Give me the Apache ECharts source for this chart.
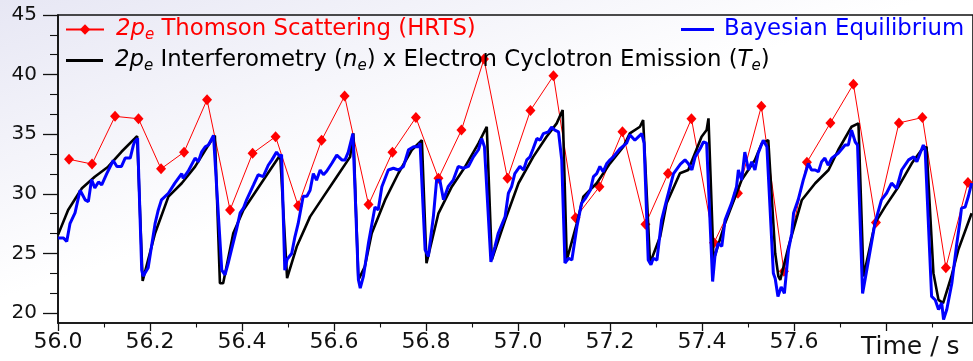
<!DOCTYPE html>
<html>
<head>
<meta charset="utf-8">
<script src="https://cdn.jsdelivr.net/npm/echarts@6/dist/echarts.min.js"></script>
<style>
  html, body { margin: 0; padding: 0; background: #fff; }
  #chart { width: 973px; height: 361px; }
</style>
</head>
<body>
<div id="chart"></div>
<script>
// HRTS points (diamonds)
const hrtsTime = [56.024, 56.074, 56.124, 56.175, 56.224, 56.274, 56.324, 56.374, 56.423, 56.473,
  56.522, 56.573, 56.623, 56.675, 56.727, 56.778, 56.827, 56.877, 56.926, 56.977,
  57.027, 57.077, 57.125, 57.177, 57.227, 57.277, 57.326, 57.377, 57.426, 57.478,
  57.529, 57.578, 57.628, 57.679, 57.729, 57.778, 57.828, 57.879, 57.930, 57.978]
const hrtsValue = [32.9, 32.5, 36.5, 36.3, 32.1, 33.5, 37.9, 28.65, 33.4, 34.8,
  29.0, 34.5, 38.2, 29.1, 33.5, 36.4, 31.3, 35.35, 41.3, 31.3,
  37.0, 39.9, 28.0, 30.6, 35.2, 27.45, 31.7, 36.3, 25.9, 30.05,
  37.35, 23.5, 32.65, 35.95, 39.2, 27.6, 35.95, 36.4, 23.8, 30.95]

// interferometry x ECE (black), one line per sawtooth
const eceTime = [
  56.000, 56.022, 56.052, 56.080, 56.109, 56.138, 56.167, 56.172,
  56.184, 56.211, 56.240, 56.269, 56.298, 56.327, 56.341,
  56.352, 56.359, 56.381, 56.403, 56.432, 56.461, 56.483,
  56.498, 56.519, 56.548, 56.577, 56.606, 56.635, 56.642,
  56.653, 56.667, 56.682, 56.711, 56.740, 56.769, 56.791,
  56.801, 56.827, 56.856, 56.885, 56.914, 56.932,
  56.943, 56.972, 57.001, 57.033, 57.062, 57.084, 57.097,
  57.106, 57.128, 57.142, 57.171, 57.200, 57.229, 57.243, 57.265, 57.272,
  57.287, 57.309, 57.323, 57.352, 57.370, 57.399, 57.410, 57.414,
  57.425, 57.450, 57.486, 57.515, 57.530, 57.544,
  57.559, 57.566, 57.570, 57.588, 57.617, 57.646, 57.675, 57.696, 57.725, 57.740,
  57.751, 57.776, 57.798, 57.827, 57.856, 57.877, 57.888,
  57.903, 57.914, 57.924, 57.942, 57.957, 57.986]
const eceValue = [
  26.56, 28.65, 30.47, 31.44, 32.28, 33.53, 34.65, 34.85,
  22.7, 26.7, 29.77, 30.89, 32.28, 34.1, 34.9,
  22.5, 22.5, 26.7, 28.65, 30.33, 32.0, 33.26,
  22.93, 25.58, 28.09, 29.77, 31.44, 33.1, 35.07,
  22.79, 23.9, 26.7, 29.49, 31.73, 33.68, 34.5,
  24.19, 28.37, 30.6, 32.28, 34.24, 35.63,
  24.46, 27.8, 30.89, 33.1, 34.79, 35.91, 37.03,
  24.46, 27.54, 29.77, 30.89, 32.56, 33.95, 35.07, 35.63, 36.19,
  24.19, 26.42, 29.21, 31.73, 32.0, 34.79, 35.35, 36.33,
  24.46, 27.54, 31.16, 32.84, 34.24, 34.5,
  25.02, 23.07, 22.79, 25.58, 29.49, 30.89, 32.0, 33.68, 35.63, 35.91,
  23.07, 27.54, 28.93, 30.6, 32.56, 33.68, 33.95,
  23.35, 21.11, 20.84, 23.07, 25.3, 28.37]

// Bayesian equilibrium (blue)
const bayesTime = [
  56.000, 56.012, 56.019, 56.026, 56.037, 56.048, 56.059, 56.066, 56.073, 56.080, 56.088, 56.095, 56.106, 56.120, 56.128, 56.138, 56.146, 56.157, 56.164, 56.167, 56.173,
  56.182, 56.185, 56.196, 56.200, 56.211, 56.218, 56.225, 56.240, 56.254, 56.269, 56.272, 56.283, 56.298, 56.305, 56.312, 56.320, 56.327, 56.338, 56.341,
  56.356, 56.363, 56.370, 56.377, 56.388, 56.396, 56.403, 56.410, 56.425, 56.435, 56.446, 56.457, 56.465, 56.475, 56.483, 56.486,
  56.493, 56.498, 56.508, 56.515, 56.522, 56.533, 56.541, 56.548, 56.555, 56.562, 56.570, 56.577, 56.584, 56.595, 56.606, 56.617, 56.624, 56.631, 56.641,
  56.653, 56.657, 56.664, 56.675, 56.689, 56.696, 56.704, 56.718, 56.729, 56.740, 56.751, 56.762, 56.773, 56.783, 56.787,
  56.798, 56.805, 56.816, 56.823, 56.830, 56.838, 56.848, 56.859, 56.870, 56.881, 56.892, 56.903, 56.914, 56.921, 56.927,
  56.941, 56.950, 56.957, 56.972, 56.979, 56.986, 56.993, 57.004, 57.012, 57.019, 57.026, 57.033, 57.041, 57.048, 57.055, 57.066, 57.073, 57.080, 57.088, 57.095,
  57.102, 57.110, 57.117, 57.128, 57.138, 57.146, 57.157, 57.164, 57.171, 57.178, 57.185, 57.193, 57.200, 57.207, 57.222, 57.236, 57.243, 57.254, 57.262, 57.269, 57.274,
  57.283, 57.289, 57.294, 57.302, 57.312, 57.323, 57.338, 57.353, 57.363, 57.370, 57.378, 57.385, 57.396, 57.403, 57.410,
  57.423, 57.428, 57.435, 57.443, 57.450, 57.464, 57.475, 57.479, 57.486, 57.493, 57.501, 57.508, 57.515, 57.522, 57.533, 57.541,
  57.555, 57.559, 57.565, 57.572, 57.579, 57.588, 57.595, 57.599, 57.609, 57.620, 57.631, 57.638, 57.646, 57.653, 57.660, 57.667, 57.674, 57.682, 57.696, 57.711, 57.718, 57.725, 57.733, 57.738,
  57.749, 57.758, 57.776, 57.790, 57.801, 57.812, 57.823, 57.834, 57.849, 57.860, 57.867, 57.881, 57.885,
  57.899, 57.907, 57.914, 57.921, 57.925, 57.932, 57.943, 57.953, 57.961, 57.964, 57.972, 57.979, 57.986]
const bayesValue = [
  26.3, 26.3, 26.0, 27.5, 28.4, 30.3, 29.5, 29.35, 31.2, 30.5, 31.0, 30.75, 31.7, 32.8, 32.3, 32.3, 33.0, 33.0, 34.1, 34.4, 34.65,
  23.6, 23.1, 23.8, 23.8, 27.5, 28.65, 29.5, 30.05, 30.9, 31.7, 31.3, 31.9, 33.0, 32.7, 33.5, 33.95, 34.1, 34.9, 34.8,
  23.6, 23.2, 24.2, 25.3, 27.0, 28.4, 28.8, 29.5, 30.75, 31.6, 31.45, 32.4, 32.85, 33.5, 33.1, 33.3,
  23.6, 24.5, 25.0, 26.4, 27.5, 29.8, 29.8, 30.3, 31.7, 31.15, 32.0, 31.6, 31.9, 32.55, 33.25, 32.85, 32.85, 33.5, 35.05,
  22.8, 22.1, 23.1, 25.9, 28.9, 28.65, 30.6, 32.0, 32.15, 32.0, 32.3, 33.7, 33.95, 33.95, 34.25,
  25.3, 24.75, 28.1, 31.15, 31.15, 29.5, 30.6, 31.15, 32.3, 32.15, 32.3, 33.1, 33.7, 34.65, 33.95,
  24.3, 25.6, 26.7, 28.1, 30.05, 30.6, 31.7, 32.3, 32.0, 32.85, 33.1, 33.8, 34.65, 34.5, 35.05, 35.2, 35.6, 35.35, 35.2, 32.85,
  24.2, 24.6, 24.45, 27.25, 29.2, 29.6, 30.3, 31.45, 31.7, 32.3, 31.85, 32.55, 32.85, 33.1, 33.8, 34.25, 34.95, 34.5, 34.8, 35.05, 34.25,
  24.45, 24.05, 24.6, 24.45, 27.8, 29.5, 31.7, 32.5, 32.85, 32.55, 32.0, 33.1, 33.8, 34.35, 34.25,
  22.65, 24.75, 25.85, 25.6, 27.8, 29.2, 30.6, 32.0, 31.15, 33.5, 32.0, 32.7, 32.0, 33.4, 34.5, 33.95,
  23.35, 22.9, 21.4, 22.2, 21.65, 25.3, 26.7, 28.4, 29.5, 31.15, 32.55, 32.0, 32.0, 31.85, 32.7, 33.0, 32.4, 33.0, 33.4, 34.1, 34.1, 35.35, 34.35, 34.1,
  21.65, 23.6, 27.55, 29.5, 30.05, 30.9, 30.45, 32.0, 32.85, 33.1, 32.7, 34.1, 33.7,
  21.4, 21.1, 20.3, 20.85, 19.45, 20.3, 22.5, 25.6, 27.8, 28.8, 28.9, 29.8, 30.9]

const xMajorTicks = [56.0, 56.2, 56.4, 56.6, 56.8, 57.0, 57.2, 57.4, 57.6, 57.8]
const xLabels = [56.0, 56.2, 56.4, 56.6, 56.8, 57.0, 57.2, 57.4, 57.6]
const xMinorTicks = [56.1, 56.3, 56.5, 56.7, 56.9, 57.1, 57.3, 57.5, 57.7, 57.9]
const yMajorTicks = [20, 25, 30, 35, 40, 45]
const yMinorTicks = [21.667, 23.333, 26.667, 28.333, 31.667, 33.333, 36.667, 38.333, 41.667, 43.333]

const zip = (t, v) => t.map((x, i) => [x, v[i]])

const FONT = '"DejaVu Sans", sans-serif'
const X_MIN = 56, X_MAX = 57.989, Y_MIN = 19.17, Y_MAX = 45
const INK = '#111'

const chart = echarts.init(document.getElementById('chart'), null, { renderer: 'canvas' })

const legendText = (color, size) => ({
  fontFamily: FONT,
  fontSize: size,
  color: color,
  rich: {
    a: { fontFamily: FONT, fontSize: size, fontStyle: 'italic', color: color, lineHeight: 26, padding: [0, 0, 0, 7] },
    i: { fontFamily: FONT, fontSize: size, fontStyle: 'italic', color: color, lineHeight: 26 },
    s: { fontFamily: FONT, fontSize: 15, fontStyle: 'italic', color: color, lineHeight: 15, verticalAlign: 'bottom' },
    b: { fontFamily: FONT, fontSize: size, color: color, lineHeight: 26 },
    c: { fontFamily: FONT, fontSize: size, color: color, lineHeight: 26, padding: [0, 0, 0, 5] },
  },
})

const tick = (values, len, width) => ({
  show: true, customValues: values, length: len, inside: false,
  lineStyle: { color: INK, width: width },
})

const option = {
  animation: false,
  backgroundColor: {
    type: 'linear', x: 0, y: 0, x2: 0.12, y2: 1,
    colorStops: [
      { offset: 0, color: '#e7e7f4' },
      { offset: 0.75, color: '#ffffff' },
      { offset: 1, color: '#ffffff' },
    ],
  },
  grid: {
    left: 58, top: 15, right: 0, bottom: 38,
    show: true, borderColor: INK, borderWidth: 1.6, backgroundColor: 'transparent',
  },
  legend: [
    {
      data: ['hrts'], left: 65, top: 18, padding: 0, itemWidth: 38, itemHeight: 13,
      formatter: () => '{a|2p}{s|e}{b| Thomson Scattering (HRTS)}',
      textStyle: legendText('#ff0000', 22.8),
    },
    {
      data: ['ece'], left: 66, top: 49, padding: 0, itemWidth: 37, itemHeight: 3, icon: 'rect',
      formatter: () => '{a|2p}{s|e}{b| Interferometry (}{i|n}{s|e}{b|) x Electron Cyclotron Emission (}{i|T}{s|e}{b|)}',
      textStyle: legendText('#000000', 22.8),
    },
    {
      data: ['bayes'], left: 681, top: 18, padding: 0, itemWidth: 33, itemHeight: 3, icon: 'rect',
      formatter: () => '{c|Bayesian Equilibrium}',
      textStyle: legendText('#0000ff', 22.8),
    },
  ],
  xAxis: [
    {
      type: 'value', min: X_MIN, max: X_MAX, position: 'bottom',
      axisLine: { show: true, onZero: false, lineStyle: { color: INK, width: 1.6 } },
      axisTick: tick(xMajorTicks, 8, 1.3),
      axisLabel: {
        show: true, customValues: xLabels, margin: 8, fontFamily: FONT, fontSize: 22, color: INK,
        formatter: (v) => v.toFixed(1),
      },
      splitLine: { show: false },
    },
    {
      type: 'value', min: X_MIN, max: X_MAX, position: 'bottom',
      axisLine: { show: false, onZero: false },
      axisTick: tick(xMinorTicks, 4.5, 1.1),
      axisLabel: { show: false },
      splitLine: { show: false },
    },
  ],
  yAxis: [
    {
      type: 'value', min: Y_MIN, max: Y_MAX, position: 'left',
      axisLine: { show: true, onZero: false, lineStyle: { color: INK, width: 1.6 } },
      axisTick: tick(yMajorTicks, 15, 1.3),
      axisLabel: { show: true, customValues: yMajorTicks, margin: 21, fontFamily: FONT, fontSize: 20, color: INK },
      splitLine: { show: false },
    },
    {
      type: 'value', min: Y_MIN, max: Y_MAX, position: 'left',
      axisLine: { show: false, onZero: false },
      axisTick: tick(yMinorTicks, 8, 1.1),
      axisLabel: { show: false },
      splitLine: { show: false },
    },
  ],
  series: [
    {
      name: 'hrts', type: 'line', z: 2,
      data: zip(hrtsTime, hrtsValue),
      symbol: 'diamond', symbolSize: [10, 11],
      lineStyle: { color: '#ff0000', width: 1 },
      itemStyle: { color: '#ff0000' },
    },
    {
      name: 'ece', type: 'line', z: 3,
      data: zip(eceTime, eceValue),
      symbol: 'none',
      lineStyle: { color: '#000000', width: 2.6 },
      itemStyle: { color: '#000000' },
    },
    {
      name: 'bayes', type: 'line', z: 4,
      data: zip(bayesTime, bayesValue),
      symbol: 'none',
      lineStyle: { color: '#0000ff', width: 3 },
      itemStyle: { color: '#0000ff' },
    },
  ],
  graphic: [
    {
      type: 'text', left: 861, top: 335,
      style: { text: 'Time / s', font: '25px "DejaVu Sans", sans-serif', fill: INK },
    },
  ],
}

chart.setOption(option)
</script>
</body>
</html>
